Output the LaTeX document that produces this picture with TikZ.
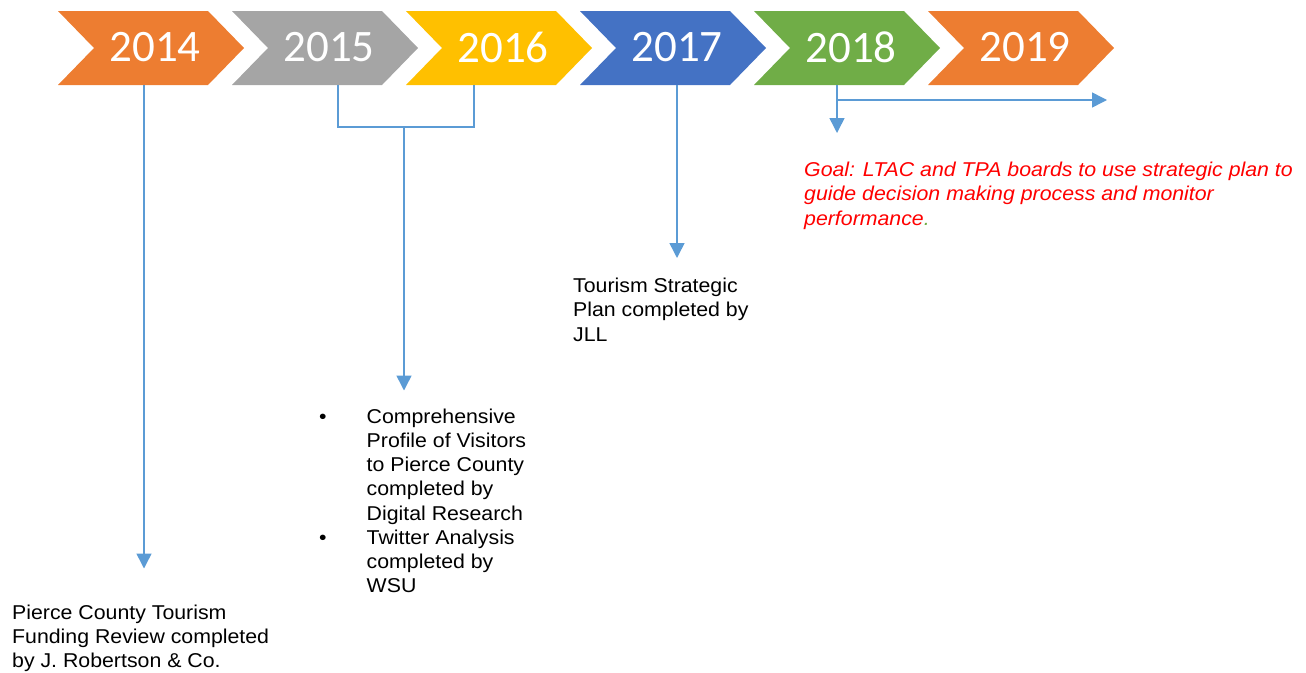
\documentclass[tikz,border=0pt]{standalone}
\usepackage{fontspec}
\setmainfont[FakeStretch=1.065]{Liberation Sans}
\newfontfamily\yearfont{Carlito}
\usetikzlibrary{arrows.meta}

\definecolor{yrorange}{HTML}{ED7D31}
\definecolor{yrgray}{HTML}{A5A5A5}
\definecolor{yrgold}{HTML}{FFC000}
\definecolor{yrblue}{HTML}{4472C4}
\definecolor{yrgreen}{HTML}{70AD47}
\definecolor{linkblue}{HTML}{5B9BD5}

\begin{document}
\begin{tikzpicture}[x=1pt,y=-1pt,>={Triangle[length=15pt,width=15pt]},
  link/.style={draw=linkblue,line width=1.5pt},
  year/.style={text=white,font=\yearfont\fontsize{45}{54}\selectfont},
  note/.style={font=\fontsize{20}{24.2}\selectfont,align=left,inner sep=0pt,anchor=north west}]

  \useasboundingbox (0,0) rectangle (1306,672);

  % chevrons
  \fill[yrorange] (58,11) -- ++(150,0) -- ++(36,37) -- ++(-36,37) -- ++(-150,0) -- ++(36,-37) -- cycle;
  \fill[yrgray] (232,11) -- ++(150,0) -- ++(36,37) -- ++(-36,37) -- ++(-150,0) -- ++(36,-37) -- cycle;
  \fill[yrgold] (406,11) -- ++(150,0) -- ++(36,37) -- ++(-36,37) -- ++(-150,0) -- ++(36,-37) -- cycle;
  \fill[yrblue] (580,11) -- ++(150,0) -- ++(36,37) -- ++(-36,37) -- ++(-150,0) -- ++(36,-37) -- cycle;
  \fill[yrgreen] (754,11) -- ++(150,0) -- ++(36,37) -- ++(-36,37) -- ++(-150,0) -- ++(36,-37) -- cycle;
  \fill[yrorange] (928,11) -- ++(150,0) -- ++(36,37) -- ++(-36,37) -- ++(-150,0) -- ++(36,-37) -- cycle;

  \node[year] (y2014) at (155,47) {2014};
  \node[year] (y2015) at (329,47) {2015};
  \node[year] (y2016) at (503,47) {2016};
  \node[year] (y2017) at (677,47) {2017};
  \node[year] (y2018) at (851,47) {2018};
  \node[year] (y2019) at (1025,47) {2019};

  \coordinate (b2014) at (144,85);
  \coordinate (b2015) at (338,85);
  \coordinate (b2016) at (474,85);
  \coordinate (j1516) at (404,127);
  \coordinate (b2017) at (677,85);
  \coordinate (b2018) at (837,85);
  \coordinate (r2018) at (1107,100);

  % texts
  \node[note] (n2014) at (12,604.5) {Pierce County Tourism\\Funding Review completed\\by J. Robertson \& Co.};
  \node[note] (n2015) at (366.5,408.5) {\llap{\textbullet\hspace{40pt}}Comprehensive\\Profile of Visitors\\to Pierce County\\completed by\\Digital Research\\\llap{\textbullet\hspace{40pt}}Twitter Analysis\\completed by\\WSU};
  \node[note] (n2017) at (573,278) {Tourism Strategic\\Plan completed by\\JLL};
  \node[note,text=red,font=\fontsize{20}{24.2}\selectfont\itshape] (n2018) at (804,162) {Goal: LTAC and TPA boards to use strategic plan to\\guide decision making process and monitor\\performance\textcolor{yrgreen}{.}};

  % connectors
  \draw[link,->] (b2014) -- (b2014 |- n2014.north) [shorten >=36pt];
  \draw[link] (b2015) |- (j1516) -| (b2016);
  \draw[link,->] (j1516) -- (j1516 |- n2015.north) [shorten >=18pt];
  \draw[link,->] (b2017) -- (b2017 |- n2017.north) [shorten >=20pt];
  \draw[link,->] (b2018) -- (b2018 |- n2018.north) [shorten >=29pt];
  \draw[link,->] (b2018 |- r2018) -- (r2018);

\end{tikzpicture}
\end{document}
